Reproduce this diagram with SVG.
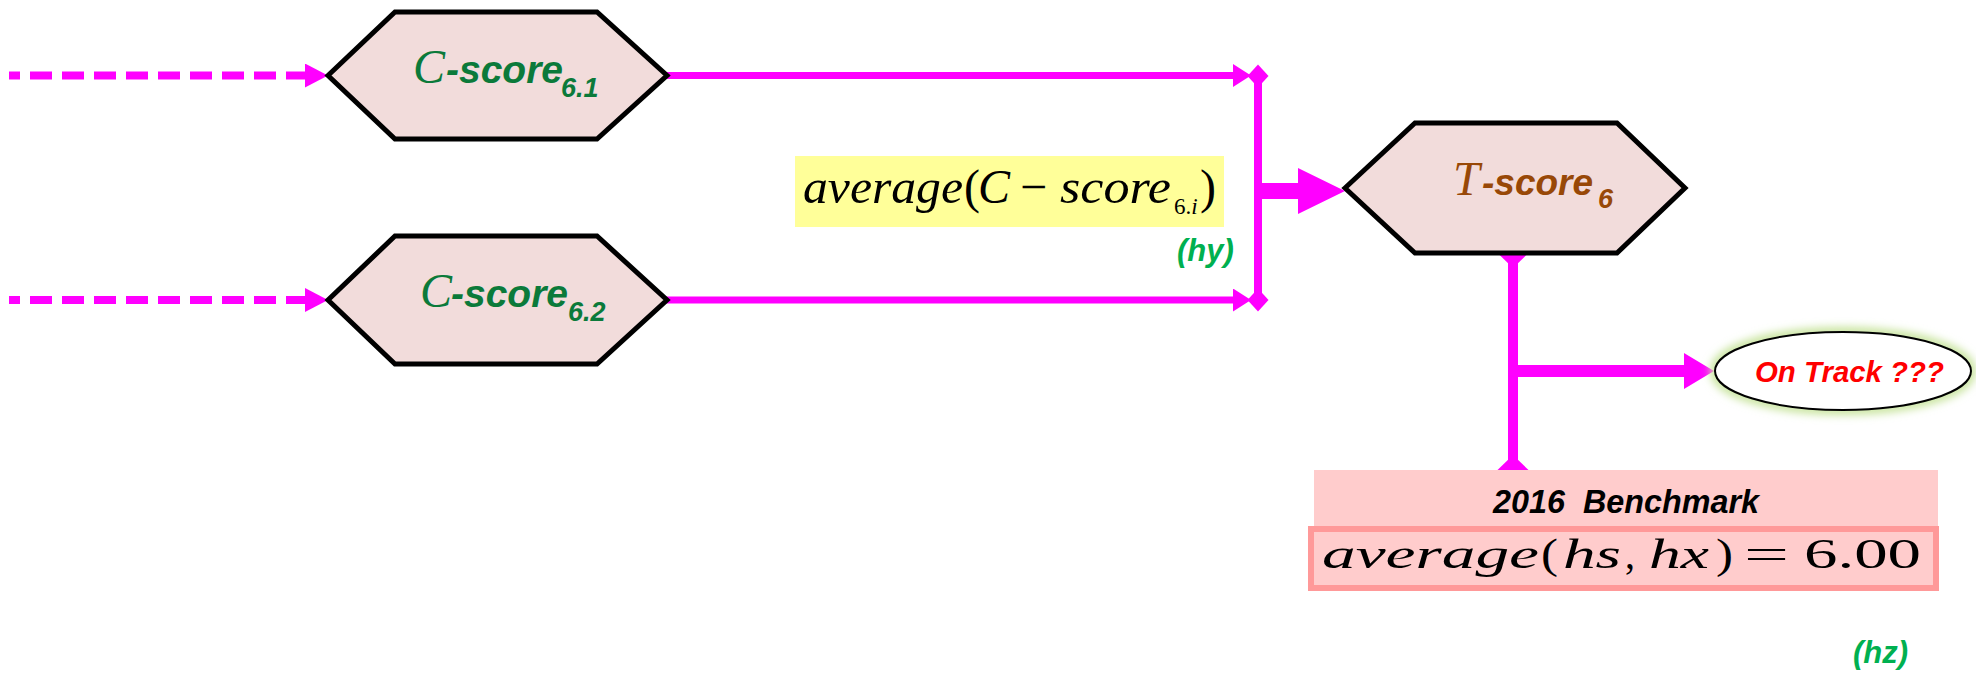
<svg xmlns="http://www.w3.org/2000/svg" width="1976" height="678" viewBox="0 0 1976 678">
<style>
.hex{fill:#f2dcdb;stroke:#000;stroke-width:5;stroke-linejoin:miter}
.mag{stroke:#ff00ff;fill:none}
.magf{fill:#ff00ff}
.cm{font-family:"Liberation Serif",serif;font-style:italic}
.lbl{font-family:"Liberation Sans",Arial,sans-serif;font-weight:bold;font-style:italic}
.green{fill:#0b7a3a}
.brown{fill:#984807}
.math{font-family:"Liberation Serif",serif;fill:#000}
.it{font-style:italic}
.tag{font-family:"Liberation Sans",Arial,sans-serif;font-weight:bold;font-style:italic;fill:#00b050;font-size:31px}
</style>
<defs>
<marker id="arrDash" markerUnits="userSpaceOnUse" markerWidth="23" markerHeight="24" refX="0" refY="12" orient="auto" viewBox="0 0 23 24"><path d="M0,0 L23,12 L0,24 z" fill="#ff00ff"/></marker>
<marker id="arrSolid" markerUnits="userSpaceOnUse" markerWidth="18" markerHeight="23" refX="0" refY="11.5" orient="auto" viewBox="0 0 18 23"><path d="M0,0 L18,11.5 L0,23 z" fill="#ff00ff"/></marker>
<path id="dia" d="M0,-11.5 L10.5,0 L0,11.5 L-10.5,0 z" fill="#ff00ff"/>
<path id="diaBig" d="M0,-15 L15.5,0 L0,15 L-15.5,0 z" fill="#ff00ff"/>
<filter id="glow" x="-20%" y="-40%" width="140%" height="180%"><feGaussianBlur stdDeviation="4"/></filter>
</defs>

<g id="connectors">
<line class="mag" x1="9" y1="75.5" x2="305" y2="75.5" stroke-width="8" stroke-dasharray="22 10" stroke-dashoffset="11" marker-end="url(#arrDash)"/>
<line class="mag" x1="9" y1="300" x2="305" y2="300" stroke-width="8" stroke-dasharray="22 10" stroke-dashoffset="11" marker-end="url(#arrDash)"/>
<line class="mag" x1="665" y1="75.5" x2="1233" y2="75.5" stroke-width="7" marker-end="url(#arrSolid)"/>
<line class="mag" x1="665" y1="300" x2="1233" y2="300" stroke-width="7" marker-end="url(#arrSolid)"/>
<line class="mag" x1="1258" y1="76" x2="1258" y2="300" stroke-width="8"/>
<use href="#dia" x="1258" y="76"/>
<use href="#dia" x="1258" y="300"/>
<polygon class="magf" points="1258,183 1298,183 1298,168 1345,191 1298,214 1298,199 1258,199"/>
<line class="mag" x1="1513" y1="253" x2="1513" y2="470" stroke-width="10"/>
<use href="#diaBig" x="1513" y="253"/>
<use href="#diaBig" x="1513" y="470"/>
<polygon class="magf" points="1513,365 1684,365 1684,353 1714,371 1684,389 1684,377 1513,377"/>
</g>

<g id="node-c61">
<polygon class="hex" points="328,75.5 395,12 597,12 667,75.5 597,139 395,139"/>
<text y="83"><tspan class="cm green" x="413" font-size="48">C</tspan><tspan class="lbl green" x="446" font-size="39">-score</tspan><tspan class="lbl green" x="561" y="97" font-size="27">6.1</tspan></text>
</g>

<g id="node-c62">
<polygon class="hex" points="328,300 395,236 597,236 667,300 597,364 395,364"/>
<text y="307"><tspan class="cm green" x="420" font-size="48">C</tspan><tspan class="lbl green" x="451" font-size="39">-score</tspan><tspan class="lbl green" x="568" y="321" font-size="27">6.2</tspan></text>
</g>

<g id="label-avg">
<rect x="795" y="156" width="429" height="71" fill="#ffff99"/>
<g class="math" font-size="48">
<text class="it" x="803" y="203" textLength="160" lengthAdjust="spacingAndGlyphs">average</text>
<text x="964" y="203">(</text>
<text class="it" x="978" y="203">C</text>
<text x="1020" y="203">−</text>
<text class="it" x="1060" y="203" textLength="111" lengthAdjust="spacingAndGlyphs">score</text>
<text x="1174" y="214" font-size="23">6.<tspan class="it">i</tspan></text>
<text x="1200" y="203">)</text>
</g>
</g>

<g id="label-hy"><text class="tag" x="1177" y="261">(hy)</text></g>

<g id="node-t6">
<polygon class="hex" points="1345,188 1415,123 1617,123 1685,188 1617,253 1415,253"/>
<text y="195"><tspan class="cm brown" x="1453" font-size="48">T</tspan><tspan class="lbl brown" x="1482" font-size="37">-score</tspan><tspan class="lbl brown" x="1598" y="208" font-size="27">6</tspan></text>
</g>

<g id="node-ontrack">
<ellipse cx="1843" cy="371" rx="128" ry="39" fill="none" stroke="#c6e39a" stroke-width="10" filter="url(#glow)"/>
<ellipse cx="1843" cy="371" rx="128" ry="39" fill="#fff" stroke="#000" stroke-width="2"/>
<text class="lbl" x="1755" y="382" font-size="30" fill="#ff0000" textLength="189" lengthAdjust="spacingAndGlyphs">On Track ???</text>
</g>

<g id="node-benchmark">
<rect x="1314" y="470" width="624" height="60" fill="#ffcccc"/>
<rect x="1311" y="529" width="625" height="59" fill="#ffcccc" stroke="#ff9999" stroke-width="6"/>
<text class="lbl" x="1493" y="513" font-size="33" fill="#000" textLength="266" lengthAdjust="spacingAndGlyphs" xml:space="preserve">2016  Benchmark</text>
<g class="math" font-size="42">
<text class="it" x="1322" y="568" textLength="217" lengthAdjust="spacingAndGlyphs">average</text>
<text x="1541" y="568" textLength="17" lengthAdjust="spacingAndGlyphs">(</text>
<text class="it" x="1563" y="568" textLength="58" lengthAdjust="spacingAndGlyphs">hs</text>
<text x="1625" y="568" textLength="10" lengthAdjust="spacingAndGlyphs">,</text>
<text class="it" x="1649" y="568" textLength="60" lengthAdjust="spacingAndGlyphs">hx</text>
<text x="1716" y="568" textLength="17" lengthAdjust="spacingAndGlyphs">)</text>
<text x="1744" y="568" textLength="45" lengthAdjust="spacingAndGlyphs">=</text>
<text x="1804" y="568" textLength="117" lengthAdjust="spacingAndGlyphs">6.00</text>
</g>
</g>

<g id="label-hz"><text class="tag" x="1853" y="663">(hz)</text></g>
</svg>
